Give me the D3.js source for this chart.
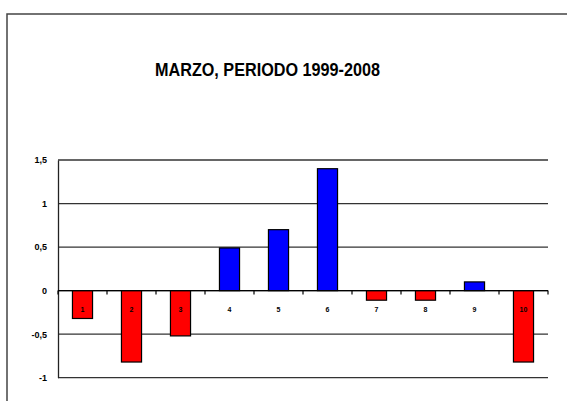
<!DOCTYPE html>
<html><head><meta charset="utf-8">
<script src="https://cdn.jsdelivr.net/npm/d3@7"></script>
<style>body{margin:0;background:#fff}svg{display:block}</style>
</head><body><svg id="c" width="567" height="401"></svg>
<script>
const categories = ["1","2","3","4","5","6","7","8","9","10"];
const values = [-0.32,-0.82,-0.52,0.49,0.7,1.4,-0.11,-0.11,0.1,-0.82];
const yTicks = [-1,-0.5,0,0.5,1,1.5];
const title = "MARZO, PERIODO 1999-2008";

const svg = d3.select("#c");
const m = {l:58, r:548, t:160, b:377.7};
svg.append("rect").attr("x",7).attr("y",14).attr("width",580).attr("height",400)
  .attr("fill","none").attr("stroke","#444").attr("stroke-width",1.5);

const x = d3.scaleBand().domain(categories).range([m.l,m.r]).paddingInner(0.59).paddingOuter(0.295);
const y = d3.scaleLinear().domain([-1,1.5]).range([m.b,m.t]);

// gridlines
svg.append("g").selectAll("line").data(yTicks).join("line")
  .attr("x1",m.l).attr("x2",m.r).attr("y1",d=>y(d)).attr("y2",d=>y(d))
  .attr("stroke","#333").attr("stroke-width",1.3);

// y axis
const fmt = d => String(d).replace(".",",");
const ya = svg.append("g").attr("transform",`translate(${m.l},0)`)
  .call(d3.axisLeft(y).tickValues(yTicks).tickFormat(fmt).tickSize(0).tickPadding(11));
ya.select(".domain").attr("stroke","#222").attr("stroke-width",1.3);
ya.selectAll("text").attr("font-family","Liberation Sans, Arial, sans-serif").attr("font-size",9).attr("font-weight","bold").attr("fill","#000");

// bars
svg.append("g").selectAll("rect").data(values).join("rect")
  .attr("x",(d,i)=>x(categories[i])).attr("width",x.bandwidth())
  .attr("y",d=>y(Math.max(0,d))).attr("height",d=>Math.abs(y(d)-y(0)))
  .attr("fill",d=>d<0?"#ff0000":"#0000ff").attr("stroke","#000").attr("stroke-width",1.2);

// x axis at zero
const xb = d3.scaleLinear().domain([0,categories.length]).range([m.l,m.r]);
const xa = svg.append("g").attr("transform",`translate(0,${y(0)})`);
xa.append("line").attr("x1",m.l).attr("x2",m.r).attr("stroke","#000").attr("stroke-width",1.3);
xa.selectAll("line.t").data(d3.range(categories.length+1)).join("line").attr("class","t")
  .attr("x1",d=>xb(d)).attr("x2",d=>xb(d)).attr("y1",0).attr("y2",4).attr("stroke","#000").attr("stroke-width",1.2);
xa.selectAll("text").data(categories).join("text")
  .attr("x",d=>x(d)+x.bandwidth()/2).attr("y",21).attr("text-anchor","middle")
  .attr("font-family","Liberation Sans, Arial, sans-serif").attr("font-size",7).attr("font-weight","bold").text(d=>d);

// title
svg.append("text").attr("x",267.5).attr("y",75.5).attr("text-anchor","middle")
  .attr("font-family","Liberation Sans, Arial, sans-serif").attr("font-size",18).attr("font-weight","bold")
  .attr("textLength",225).attr("lengthAdjust","spacingAndGlyphs").text(title);
</script></body></html>
